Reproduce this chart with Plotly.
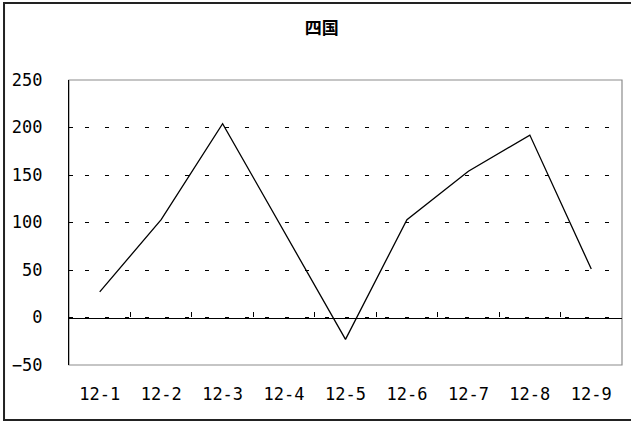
import plotly.graph_objects as go

# data
months = ["12-1", "12-2", "12-3", "12-4", "12-5", "12-6", "12-7", "12-8", "12-9"]
shikoku = [27, 103, 204, 90, -23, 103, 154, 192, 51]
y_ticks = [-50, 0, 50, 100, 150, 200, 250]

tick_font = dict(family="DejaVu Sans Mono", size=17, color="black")

fig = go.Figure()

# main series
fig.add_trace(go.Scatter(x=months, y=shikoku, mode="lines",
                         line=dict(color="black", width=1.3),
                         hoverinfo="skip", showlegend=False))

# invisible copy so the zero-crossing category axis (x2) gets drawn
fig.add_trace(go.Scatter(x=months, y=shikoku, mode="lines", xaxis="x2",
                         line=dict(color="rgba(0,0,0,0)", width=0),
                         hoverinfo="skip", showlegend=False))

# grey frame of the plot area
fig.add_shape(type="rect", xref="paper", yref="paper", x0=0, x1=1, y0=0, y1=1,
              line=dict(color="#8c8c8c", width=1.2), layer="below")
# outer chart frame
fig.add_shape(type="rect", xref="paper", yref="paper",
              x0=-0.1175, x1=1.03, y0=-0.193, y1=1.27,
              line=dict(color="#222222", width=2), layer="below")

zero_pos = (0 - y_ticks[0]) / (y_ticks[-1] - y_ticks[0])

fig.update_layout(
    width=631, height=424,
    margin=dict(l=69, r=9, t=80, b=59),
    paper_bgcolor="white", plot_bgcolor="white",
    title=dict(text="四国", xref="container", yref="container",
               x=0.51, y=1 - 28 / 424, xanchor="center", yanchor="middle",
               font=dict(family="Noto Sans CJK JP", size=17, color="black",
                         weight=600)),
    xaxis=dict(type="category", range=[-0.5, len(months) - 0.5],
               showgrid=False, zeroline=False, showline=False, ticks="",
               tickfont=tick_font, ticklabelstandoff=17),
    xaxis2=dict(type="category", overlaying="x", anchor="free", position=zero_pos,
                range=[-0.5, len(months) - 0.5], side="bottom",
                showline=True, linecolor="black", linewidth=1.2,
                ticks="inside", tickson="boundaries", ticklen=5,
                tickcolor="black", tickwidth=1.2,
                showticklabels=False, showgrid=False, zeroline=False),
    yaxis=dict(range=[y_ticks[0], y_ticks[-1]], tickvals=y_ticks,
               showgrid=True, gridcolor="black", gridwidth=1,
               griddash="0px,16px,4px,0px", zeroline=False,
               showline=True, linecolor="black", linewidth=1.2,
               ticks="inside", ticklen=4, tickcolor="black",
               tickfont=tick_font, ticklabelstandoff=22),
)

# drop the browser's default 8px body margin so the chart sits at the page corner
fig.write_html("out.html", config={"displayModeBar": False},
               post_script="document.body.style.margin='0';")
